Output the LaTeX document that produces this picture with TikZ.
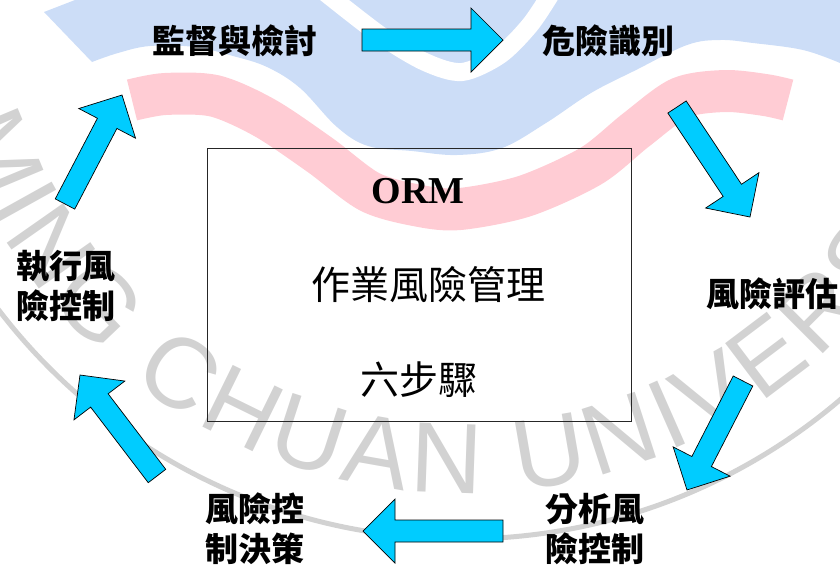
\documentclass[tikz,border=0pt]{standalone}
\usepackage{fontspec}
\usetikzlibrary{calc,decorations.text}
\newfontfamily\cjk{Noto Sans CJK TC}
\newfontfamily\ormfont{Liberation Serif}
\newfontfamily\wmfont{Liberation Sans}
\definecolor{wavebl}{RGB}{204,221,247}
\definecolor{wavepk}{RGB}{255,204,212}
\definecolor{arrcyan}{RGB}{0,204,255}
\definecolor{wmgray}{RGB}{210,210,210}

\def\ux{1pt}
\def\uy{-1pt}
\def\shaftw{11pt}
\def\headw{32pt}
\def\headl{32pt}

\begin{document}
\begin{tikzpicture}[x=\ux,y=\uy,
    lbl/.style={font=\cjk\bfseries\fontsize{33}{40}\selectfont, align=center, inner sep=0pt},
    midtxt/.style={font=\cjk\fontsize{39}{39}\selectfont, inner sep=0pt},
    blockarr/.style={fill=arrcyan, draw=black, line width=0.7pt, line join=miter}]
	\useasboundingbox (0,0) rectangle (840,566);
	\clip (0,0) rectangle (840,566);

	% waves and seal in the background
	\fill[wavebl] (75,0) -- (44,12) -- plot[smooth, tension=0.6] coordinates {(92,62) (118,53) (150,46) (195,47) (233,56) (267,67) (300,88) (337,127) (368,146) (412,151) (457,155) (502,148) (546,123) (591,93) (636,70) (687,45) (720,40) (753,43) (803,50) (840,63)} -- (845,0) -- cycle;
	\draw[white, line width=18] plot[smooth] coordinates {(322,-10) (380,35) (425,62) (462,72) (500,55) (530,25) (552,-8)};
	\draw[wavepk, line width=42] plot[smooth] coordinates {(132,100) (165,94) (215,96) (265,118) (320,155) (370,192) (420,206) (460,209) (525,196) (591,166) (636,130) (680,98) (725,91) (765,95) (788,100)};

	\coordinate (seal) at (462,-44);
	\draw[wmgray, line width=5] (seal) circle[radius=583];
	\path[decorate, decoration={text along path, text color=wmgray,
	    text={|\wmfont\fontsize{100}{100}\selectfont\kern5pt|MING CHUAN UNIVERSITY}}]
	    (seal) ++(162:537) arc[start angle=162, end angle=2, radius=537];

	% centre box
	\node[draw=black!85, line width=0.8pt, minimum width=424, minimum height=273] (orm) at (419,284.5) {};
	\node[font=\ormfont\bfseries\fontsize{38}{38}\selectfont, inner sep=0pt] (ormtxt) at (418,191) {ORM};
	\node[midtxt] (ormname) at (428,285) {作業風險管理};
	\node[midtxt] (ormsteps) at (419,380) {六步驟};

	% the six steps
	\node[lbl] (monitor) at (235,41) {監督與檢討};
	\node[lbl] (identify) at (608,41) {危險識別};
	\node[lbl] (assess) at (772,294) {風險評估};
	\node[lbl] (analyze) at (595,529) {分析風\\險控制};
	\node[lbl] (decide) at (255,529) {風險控\\制決策};
	\node[lbl] (implement) at (66,286) {執行風\\險控制};

	\coordinate (t1) at (362,40);  \coordinate (h1) at (503,40);
	\coordinate (t2) at (677,107); \coordinate (h2) at (750,217);
	\coordinate (t3) at (743,381); \coordinate (h3) at (687,490);
	\coordinate (t4) at (503,531); \coordinate (h4) at (363,531);
	\coordinate (t5) at (157,476); \coordinate (h5) at (80,375);
	\coordinate (t6) at (65,204);  \coordinate (h6) at (122,95);
	\foreach \t/\h in {t1/h1,t2/h2,t3/h3,t4/h4,t5/h5,t6/h6}{
		\coordinate (neck) at ($(\h)!\headl!(\t)$);
		\draw[blockarr] ($(\t)!\shaftw!90:(\h)$) -- ($(neck)!\shaftw!90:(\h)$) -- ($(neck)!\headw!90:(\h)$) -- (\h)
			-- ($(neck)!\headw!-90:(\h)$) -- ($(neck)!\shaftw!-90:(\h)$) -- ($(\t)!\shaftw!-90:(\h)$) -- cycle;
	}
\end{tikzpicture}
\end{document}
